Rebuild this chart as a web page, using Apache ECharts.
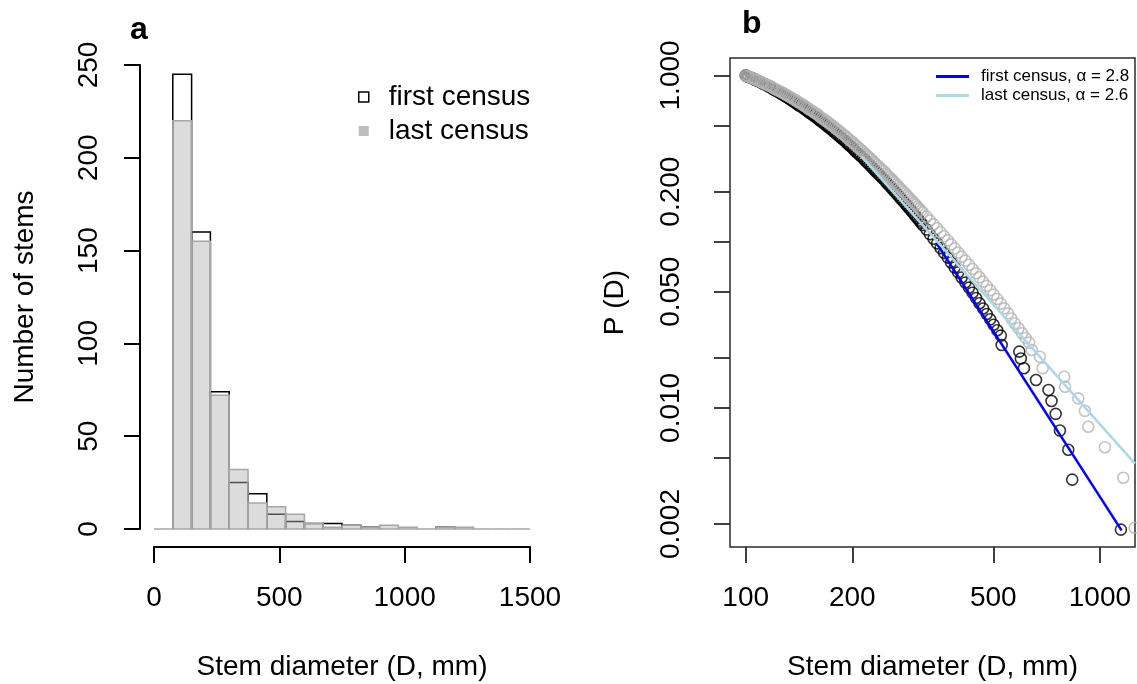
<!DOCTYPE html>
<html><head><meta charset="utf-8">
<script src="https://cdn.jsdelivr.net/npm/echarts@6/dist/echarts.min.js"></script>
<style>html,body{margin:0;padding:0;background:#fff}#c{width:1137px;height:684px}</style>
</head><body><div id="c"></div>
<script>
// ---------- Panel a: histogram ----------
const binEdges = [0,75,150,225,300,375,450,525,600,675,750,825,900,975,1050,1125,1200,1275,1350,1425,1500];
const firstCensusCounts = [0,245,160,74,25,19,8,4,3,3,2,1,0,0,0,1,0,0,0,0];
const lastCensusCounts  = [0,220,155,72,32,14,12,8,3,1,2,1,2,1,0,1,1,0,0,0];
const histXTicks = [0,500,1000,1500];
const histYTicks = [0,50,100,150,200,250];

// ---------- Panel b: complementary cumulative distribution P(D) ----------
const firstD = [100,102,105,107,110,112,115,118,120,123,126,129,132,135,138,141,145,148,151,155,159,162,166,170,174,178,182,186,191,195,200,204,209,214,219,224,229,234,240,246,251,257,263,269,275,282,288,295,302,309,316,324,331,339,347,355,363,372,380,389,398,407,417,427,437,447,457,468,479,490,501,513,525,
  528,592,598,610,660,716,730,750,771,814,835,1146,
  101.2,103.5,105.9,108.4,110.9,113.5,116.1,118.9,121.6,124.5,127.4,130.3,133.4,136.5,139.6,142.9,146.2,149.6,153.1,156.7,160.3,164.1,167.9,171.8,175.8,179.9,184.1,188.4,192.8,197.2,201.8,206.5,211.3,216.3,221.3,226.5,231.7,237.1,242.7,248.3,254.1,260.0,266.1,272.3,278.6,285.1,291.7,298.5,305.5,312.6];
const firstP = [1.000,0.979,0.958,0.935,0.914,0.891,0.869,0.845,0.823,0.799,0.776,0.753,0.730,0.707,0.685,0.662,0.641,0.619,0.598,0.576,0.556,0.535,0.516,0.495,0.476,0.457,0.438,0.420,0.402,0.384,0.367,0.350,0.334,0.319,0.304,0.289,0.275,0.2615,0.2485,0.236,0.2239,0.2121,0.2010,0.1901,0.1798,0.1698,0.1603,0.1510,0.1423,0.1338,0.1259,0.1182,0.1110,0.1041,0.0976,0.0914,0.0856,0.0801,0.0749,0.0699,0.0653,0.0609,0.0568,0.0529,0.0493,0.0458,0.0426,0.0396,0.0367,0.0341,0.0316,0.0293,0.0272,
  0.0239,0.0218,0.0198,0.0173,0.0147,0.0128,0.0110,0.0092,0.0073,0.0056,0.0037,0.00185,
  0.989,0.968,0.946,0.924,0.902,0.880,0.857,0.834,0.811,0.788,0.764,0.741,0.718,0.696,0.674,0.651,0.630,0.608,0.587,0.566,0.545,0.525,0.505,0.486,0.466,0.447,0.429,0.411,0.393,0.376,0.359,0.342,0.327,0.311,0.296,0.282,0.268,0.255,0.242,0.2298,0.2180,0.2065,0.1955,0.1849,0.1747,0.1650,0.1555,0.1466,0.1380,0.1298];
const lastD = [100,102,105,107,110,112,115,118,120,123,126,129,132,135,138,141,145,148,151,155,159,162,166,170,174,178,182,186,191,195,200,204,209,214,219,224,229,234,240,246,251,257,263,269,275,282,288,295,302,309,316,324,331,339,347,355,363,372,380,389,398,407,417,427,437,447,457,468,479,490,501,513,525,537,550,562,575,589,603,617,631,
  642,677,689,793,797,869,907,927,1033,1164,1253,
  101.2,103.5,105.9,108.4,110.9,113.5,116.1,118.9,121.6,124.5,127.4,130.3,133.4,136.5,139.6,142.9,146.2,149.6,153.1,156.7,160.3,164.1,167.9,171.8,175.8,179.9,184.1,188.4,192.8,197.2,201.8,206.5,211.3,216.3,221.3,226.5,231.7,237.1,242.7,248.3,254.1,260.0,266.1,272.3,278.6,285.1,291.7,298.5,305.5,312.6];
const lastP = [1.000,0.980,0.960,0.940,0.920,0.899,0.878,0.857,0.836,0.815,
  0.794,0.773,0.752,0.731,0.710,0.689,0.668,0.647,0.626,0.606,
  0.586,0.565,0.545,0.526,0.507,0.488,0.469,0.451,0.433,0.415,
  0.398,0.381,0.365,0.349,0.334,0.319,0.304,0.290,0.277,0.264,
  0.2512,0.2390,0.2273,0.2161,0.2053,0.1950,0.1851,0.1757,0.1666,0.1579,
  0.1496,0.1417,0.1342,0.1271,0.1203,0.1138,0.1077,0.1018,0.0963,0.0911,
  0.0861,0.0813,0.0769,0.0726,0.0685,0.0646,0.0610,0.0575,0.0542,0.0511,
  0.0481,0.0452,0.0424,0.0397,0.0370,0.0345,0.0322,0.0301,0.0281,0.0263,
  0.0247,
  0.0223,0.0203,0.0173,0.0154,0.0134,0.0114,0.0096,0.0077,0.0058,0.0038,0.0019,
  0.990,0.970,0.950,0.930,0.909,0.888,0.868,0.847,0.826,0.805,0.784,0.763,0.742,0.720,0.699,0.678,0.657,0.636,0.616,0.596,0.575,0.555,0.535,0.516,0.497,0.478,0.460,0.442,0.424,0.406,0.390,0.373,0.357,0.341,0.326,0.312,0.297,0.284,0.270,0.257,0.245,0.2330,0.2216,0.2106,0.2001,0.1900,0.1803,0.1710,0.1622,0.1537];
const firstFitD = [346, 1151];
const firstFitP = [0.0978, 0.00183];
const lastFitD = [212.5, 1256];
const lastFitP = [0.325, 0.00462];
const ccdfXTicks = [100,200,500,1000];
const ccdfYTicks = [1,0.5,0.2,0.1,0.05,0.02,0.01,0.005,0.002];
const ccdfYLabels = [1,0.2,0.05,0.01,0.002];
const ccdfXRange = [90.3, 1256];
const ccdfYRange = [0.001455, 1.273];

const FONT = '"Liberation Sans", Arial, Helvetica, sans-serif';
const lg = v => Math.log10(v);
const chart = echarts.init(document.getElementById('c'), null, {renderer: 'canvas'});

const histRows = counts => counts.map((c, i) => [binEdges[i], binEdges[i + 1], c]);

const option = {
  animation: false,
  backgroundColor: '#fff',
  textStyle: {fontFamily: FONT},
  grid: [
    {left: 154, top: 65, width: 376, height: 464, containLabel: false, outerBoundsMode: 'none'},
    {left: 730, top: 58, width: 405, height: 489, containLabel: false, outerBoundsMode: 'none',
     show: true, borderColor: '#2b2b2b', borderWidth: 1.5, backgroundColor: 'transparent'}
  ],
  xAxis: [
    {gridIndex: 0, type: 'value', min: histXTicks[0], max: histXTicks[histXTicks.length - 1], interval: 500, offset: 18,
     axisLine: {show: true, onZero: false, lineStyle: {color: '#000', width: 2}},
     axisTick: {show: true, length: 16, lineStyle: {color: '#000', width: 2}},
     axisLabel: {fontSize: 28, color: '#000', margin: 37, fontFamily: FONT, formatter: v => String(v)},
     splitLine: {show: false},
     name: 'Stem diameter (D, mm)', nameLocation: 'middle', nameGap: 106,
     nameTextStyle: {fontSize: 28, color: '#000', fontFamily: FONT}},
    {gridIndex: 1, type: 'value', min: lg(ccdfXRange[0]), max: lg(ccdfXRange[1]),
     axisLine: {show: false, onZero: false},
     axisTick: {show: true, length: 16, customValues: ccdfXTicks.map(lg), lineStyle: {color: '#2b2b2b', width: 1.8}},
     axisLabel: {fontSize: 28, color: '#000', margin: 37, fontFamily: FONT, customValues: ccdfXTicks.map(lg),
       formatter: v => String(Math.round(Math.pow(10, v)))},
     splitLine: {show: false},
     name: 'Stem diameter (D, mm)', nameLocation: 'middle', nameGap: 106,
     nameTextStyle: {fontSize: 28, color: '#000', fontFamily: FONT}}
  ],
  yAxis: [
    {gridIndex: 0, type: 'value', min: histYTicks[0], max: histYTicks[histYTicks.length - 1], interval: 50, offset: 14,
     axisLine: {show: true, onZero: false, lineStyle: {color: '#000', width: 2}},
     axisTick: {show: true, length: 16, lineStyle: {color: '#000', width: 2}},
     axisLabel: {fontSize: 28, color: '#000', margin: 37, rotate: 90, fontFamily: FONT},
     splitLine: {show: false},
     name: 'Number of stems', nameLocation: 'middle', nameGap: 101, nameRotate: 90,
     nameTextStyle: {fontSize: 28, color: '#000', fontFamily: FONT}},
    {gridIndex: 1, type: 'value', min: lg(ccdfYRange[0]), max: lg(ccdfYRange[1]),
     axisLine: {show: false, onZero: false},
     axisTick: {show: true, length: 16, customValues: ccdfYTicks.map(lg), lineStyle: {color: '#2b2b2b', width: 1.8}},
     axisLabel: {fontSize: 28, color: '#000', margin: 45, rotate: 90, fontFamily: FONT, customValues: ccdfYLabels.map(lg),
       formatter: v => Math.pow(10, v).toFixed(3)},
     splitLine: {show: false},
     name: 'P (D)', nameLocation: 'middle', nameGap: 101, nameRotate: 90,
     nameTextStyle: {fontSize: 28, color: '#000', fontFamily: FONT}}
  ],
  legend: [
    {orient: 'vertical', left: 353, top: 78, itemWidth: 10, itemHeight: 10, itemGap: 6, selectedMode: false,
     textStyle: {fontSize: 28, color: '#000', fontFamily: FONT, padding: [0, 0, 0, 15]},
     data: [
       {name: 'first census', icon: 'rect', itemStyle: {color: '#fff', borderColor: '#000', borderWidth: 1.5}},
       {name: 'last census', icon: 'rect', itemStyle: {color: '#bebebe', borderWidth: 0}}
     ]},
    {orient: 'vertical', left: 931, top: 63, itemWidth: 33, itemHeight: 3, itemGap: 2, selectedMode: false, icon: 'rect',
     textStyle: {fontSize: 17, color: '#000', fontFamily: FONT, padding: [0, 0, 0, 7]},
     data: ['first census, α = 2.8', 'last census, α = 2.6']}
  ],
  graphic: [
    {type: 'text', left: 130, top: 14, style: {text: 'a', font: 'bold 32px ' + FONT, fill: '#000'}},
    {type: 'text', left: 742, top: 8, style: {text: 'b', font: 'bold 32px ' + FONT, fill: '#000'}}
  ],
  series: [
    {name: 'first census', type: 'custom', coordinateSystem: 'cartesian2d', xAxisIndex: 0, yAxisIndex: 0,
     itemStyle: {color: '#fff'}, encode: {x: [0, 1], y: 2}, silent: true, clip: false,
     data: histRows(firstCensusCounts),
     renderItem: (params, api) => {
       const x0 = api.value(0), x1 = api.value(1), c = api.value(2);
       if (!c) return {type: 'group', children: []};
       return {type: 'polyline', shape: {points: [api.coord([x0, 0]), api.coord([x0, c]), api.coord([x1, c]), api.coord([x1, 0])]},
               style: {stroke: '#000', lineWidth: 1.5, fill: null}};
     }},
    {name: 'last census', type: 'custom', coordinateSystem: 'cartesian2d', xAxisIndex: 0, yAxisIndex: 0,
     itemStyle: {color: '#bebebe'}, encode: {x: [0, 1], y: 2}, silent: true, clip: false,
     data: histRows(lastCensusCounts),
     renderItem: (params, api) => {
       const x0 = api.value(0), x1 = api.value(1), c = api.value(2);
       const p0 = api.coord([x0, c]), p1 = api.coord([x1, 0]);
       if (!c) return {type: 'line', shape: {x1: p0[0], y1: p1[1], x2: p1[0], y2: p1[1]}, style: {stroke: '#a6a6a6', lineWidth: 1.5}};
       return {type: 'rect', shape: {x: p0[0], y: p0[1], width: p1[0] - p0[0], height: p1[1] - p0[1]},
               style: {fill: 'rgba(178,178,178,0.45)', stroke: '#a6a6a6', lineWidth: 1.5}};
     }},
    {name: 'first census points', type: 'scatter', xAxisIndex: 1, yAxisIndex: 1, symbol: 'circle', symbolSize: 11, silent: true,
     itemStyle: {color: 'rgba(0,0,0,0)', borderColor: '#000', borderWidth: 1.6},
     data: firstD.map((d, i) => [lg(d), lg(firstP[i])])},
    {name: 'last census points', type: 'scatter', xAxisIndex: 1, yAxisIndex: 1, symbol: 'circle', symbolSize: 11, silent: true,
     itemStyle: {color: 'rgba(0,0,0,0)', borderColor: '#b4b4b4', borderWidth: 1.6},
     data: lastD.map((d, i) => [lg(d), lg(lastP[i])])},
    {name: 'first census, α = 2.8', type: 'line', xAxisIndex: 1, yAxisIndex: 1, showSymbol: false, silent: true,
     itemStyle: {color: '#0000ff'}, lineStyle: {color: '#0000ff', width: 2.5},
     data: firstFitD.map((d, i) => [lg(d), lg(firstFitP[i])])},
    {name: 'last census, α = 2.6', type: 'line', xAxisIndex: 1, yAxisIndex: 1, showSymbol: false, silent: true,
     itemStyle: {color: '#add8e6'}, lineStyle: {color: '#add8e6', width: 2.5},
     data: lastFitD.map((d, i) => [lg(d), lg(lastFitP[i])])}
  ]
};
chart.setOption(option);
</script></body></html>
